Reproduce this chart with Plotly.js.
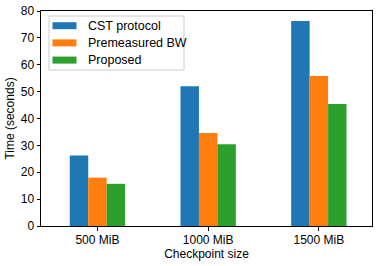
<!DOCTYPE html>
<html><head><meta charset="utf-8">
<script src="https://cdn.plot.ly/plotly-3.0.1.min.js"></script>
<style>html,body{margin:0;padding:0;background:#fff}#c{width:381px;height:266px}</style>
</head><body><div id="c"></div>
<script>
const categories = ["500 MiB", "1000 MiB", "1500 MiB"];
const cstProtocol = [26.2, 52.0, 76.3];
const premeasuredBW = [18.0, 34.6, 55.8];
const proposed = [15.7, 30.4, 45.4];
const seriesNames = ["CST protocol", "Premeasured BW", "Proposed"];
const colors = ["#1f77b4", "#ff7f0e", "#2ca02c"];
const yTicks = [0, 10, 20, 30, 40, 50, 60, 70, 80];

const W = 381, H = 266, M = {l: 41, r: 9, t: 11, b: 40};
const pw = W - M.l - M.r, ph = H - M.t - M.b;
const px = x => (x - M.l) / pw, py = y => (H - M.b - y) / ph;

const font = {family: "Liberation Sans, Arial, sans-serif", size: 12, color: "#000"};
const data = [cstProtocol, premeasuredBW, proposed].map((v, i) => ({
  type: "bar", x: categories, y: v, name: seriesNames[i],
  marker: {color: colors[i], line: {width: 0}}
}));

// legend drawn as shapes + annotations (matplotlib style)
const shapes = [{type: "rect", xref: "paper", yref: "paper",
  x0: px(49), x1: px(184), y0: py(70), y1: py(16),
  line: {color: "#cccccc", width: 1}, fillcolor: "rgba(255,255,255,0.8)", layer: "above"}];
const annotations = [];
seriesNames.forEach((n, i) => {
  const cy = 25.7 + i * 17.2;
  shapes.push({type: "rect", xref: "paper", yref: "paper",
    x0: px(52.5), x1: px(76.5), y0: py(cy + 3.5), y1: py(cy - 3.5),
    line: {width: 0}, fillcolor: colors[i], layer: "above"});
  annotations.push({xref: "paper", yref: "paper", x: px(86), y: py(cy),
    xanchor: "left", yanchor: "middle", showarrow: false, text: n,
    font: {family: font.family, size: 12.5, color: "#000"}});
});

const layout = {
  width: W, height: H, margin: M,
  paper_bgcolor: "#fff", plot_bgcolor: "#fff",
  font: font,
  barmode: "group", bargap: 0.5, bargroupgap: 0,
  showlegend: false,
  shapes: shapes, annotations: annotations,
  xaxis: {type: "category", range: [-0.51, 2.48], showline: true, linecolor: "#000", linewidth: 1,
    mirror: true, ticks: "outside", ticklen: 3.5, tickcolor: "#000", showgrid: false, zeroline: false,
    ticklabelstandoff: -1,
    tickfont: font, title: {text: "Checkpoint size", font: font, standoff: 0}},
  yaxis: {range: [0, 80], tickvals: yTicks, showline: true, linecolor: "#000", linewidth: 1,
    mirror: true, ticks: "outside", ticklen: 3.5, tickcolor: "#000", showgrid: false, zeroline: false,
    tickfont: font, title: {text: "Time (seconds)", font: font, standoff: 3}}
};
Plotly.newPlot("c", data, layout, {staticPlot: true, displayModeBar: false});
</script></body></html>
